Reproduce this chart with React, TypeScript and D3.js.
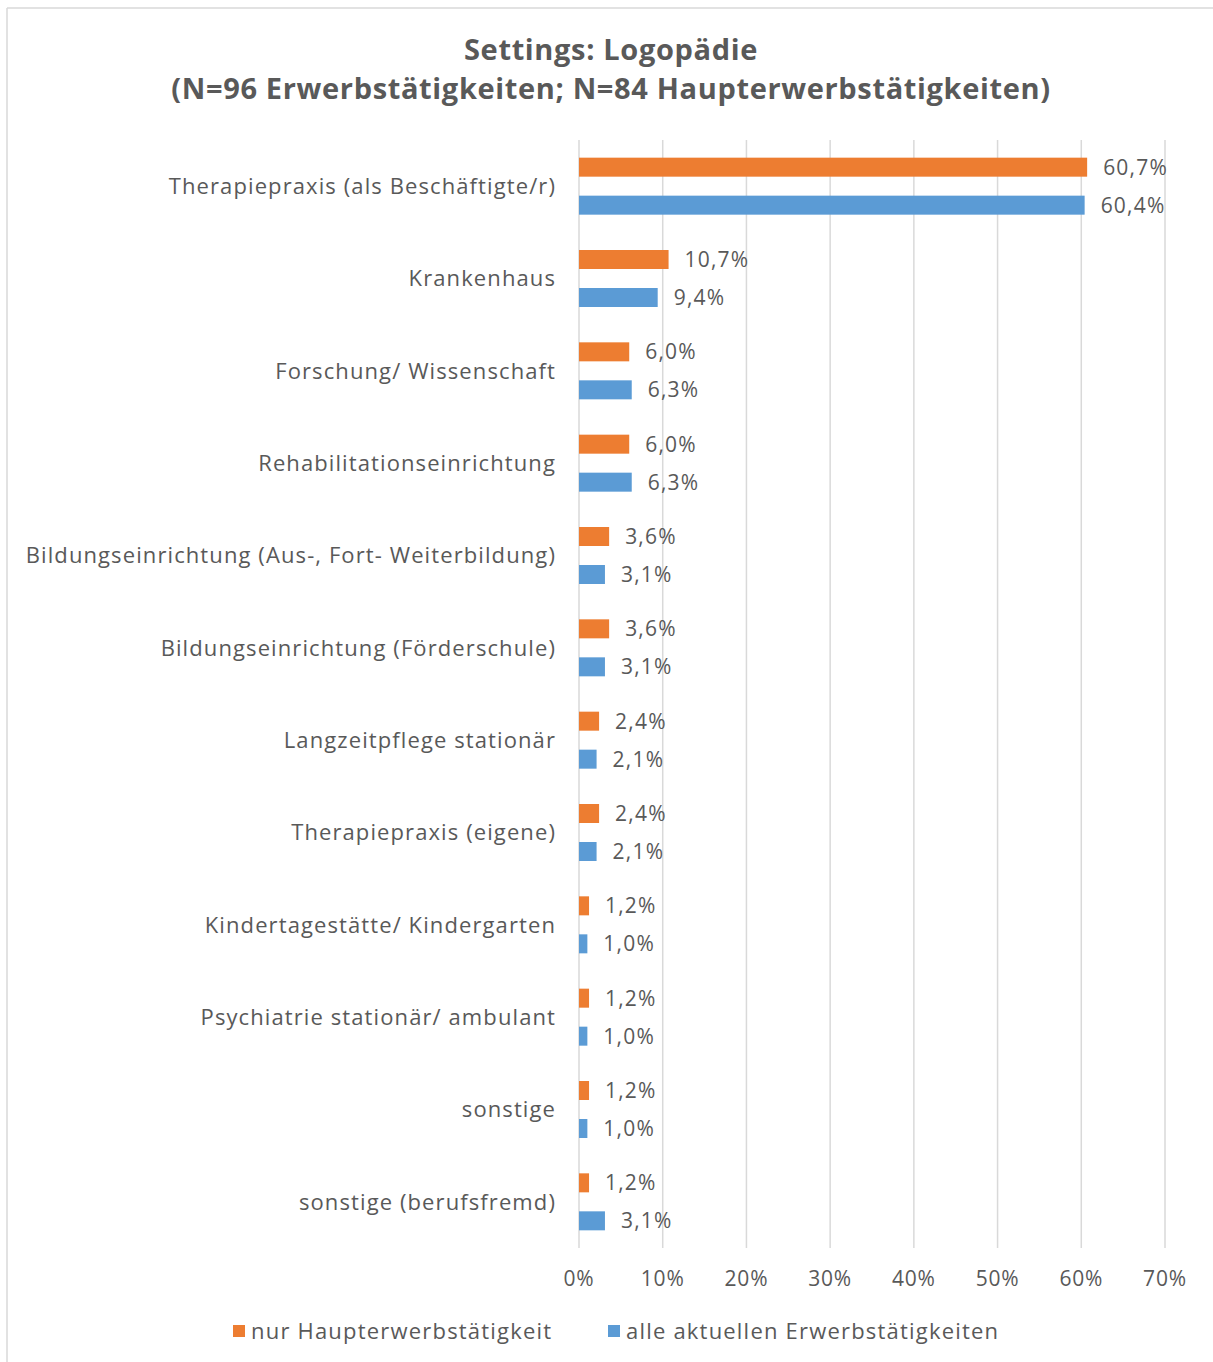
import React from "react";
import * as d3 from "d3";

const categories = [
  "Therapiepraxis (als Beschäftigte/r)",
  "Krankenhaus",
  "Forschung/ Wissenschaft",
  "Rehabilitationseinrichtung",
  "Bildungseinrichtung (Aus-, Fort- Weiterbildung)",
  "Bildungseinrichtung (Förderschule)",
  "Langzeitpflege stationär",
  "Therapiepraxis (eigene)",
  "Kindertagestätte/ Kindergarten",
  "Psychiatrie stationär/ ambulant",
  "sonstige",
  "sonstige (berufsfremd)",
];
const hauptValues = [60.7, 10.7, 6.0, 6.0, 3.6, 3.6, 2.4, 2.4, 1.2, 1.2, 1.2, 1.2];
const alleValues = [60.4, 9.4, 6.3, 6.3, 3.1, 3.1, 2.1, 2.1, 1.0, 1.0, 1.0, 3.1];
const seriesNames = ["nur Haupterwerbstätigkeit", "alle aktuellen Erwerbstätigkeiten"];
const seriesColors = ["#ED7D31", "#5B9BD5"];
const xTicks = [0, 10, 20, 30, 40, 50, 60, 70];
const titleLines = [
  "Settings: Logopädie",
  "(N=96 Erwerbstätigkeiten; N=84 Haupterwerbstätigkeiten)",
];

const W = 1213;
const H = 1362;
const FONT = "'Open Sans', 'DejaVu Sans', sans-serif";
const TEXT = "#595959";

export default function App() {
  const x = d3.scaleLinear().domain([0, 70]).range([579, 1165]);
  const y = d3.scaleBand<string>().domain(categories).range([140, 1248]).padding(0);
  const inner = d3
    .scaleBand<number>()
    .domain([0, 1])
    .range([0, y.bandwidth()])
    .paddingInner(0.5)
    .paddingOuter(0.465);
  const series = [hauptValues, alleValues];
  const fmt = (v: number) => v.toFixed(1).replace(".", ",") + "%";

  return (
    <svg
      width={W}
      height={H}
      style={{ position: "absolute", left: 0, top: 0, background: "#fff" }}
      fontFamily={FONT}
    >
      <rect x={0} y={0} width={W} height={H} fill="#fff" />
      <line x1={7} x2={1213} y1={8} y2={8} stroke="#D9D9D9" strokeWidth={1.5} />
      <line x1={7} x2={7} y1={8} y2={H} stroke="#D9D9D9" strokeWidth={1.5} />

      {titleLines.map((t, i) => (
        <text
          key={i}
          x={611}
          y={60 + i * 39}
          textAnchor="middle"
          fontSize={29}
          fontWeight="bold"
          letterSpacing={0.65}
          fill={TEXT}
        >
          {t}
        </text>
      ))}

      {xTicks.map((t) => (
        <g key={t}>
          <line x1={x(t)} x2={x(t)} y1={140} y2={1248} stroke="#D9D9D9" strokeWidth={1.5} />
          <text x={x(t)} y={1286} textAnchor="middle" fontSize={21} letterSpacing={0.8} fill={TEXT}>
            {t}%
          </text>
        </g>
      ))}

      {categories.map((c, ci) => (
        <g key={c}>
          <text
            x={556}
            y={(y(c) as number) + y.bandwidth() / 2}
            dy="0.35em"
            textAnchor="end"
            fontSize={22}
            letterSpacing={1.1}
            fill={TEXT}
          >
            {c}
          </text>
          {series.map((vals, si) => {
            const by = (y(c) as number) + (inner(si) as number);
            return (
              <g key={si}>
                <rect
                  x={x(0)}
                  y={by}
                  width={x(vals[ci]) - x(0)}
                  height={inner.bandwidth()}
                  fill={seriesColors[si]}
                />
                <text
                  x={x(vals[ci]) + 16}
                  y={by + inner.bandwidth() / 2}
                  dy="0.35em"
                  fontSize={21}
                  letterSpacing={1.2}
                  fill={TEXT}
                >
                  {fmt(vals[ci])}
                </text>
              </g>
            );
          })}
        </g>
      ))}

      {seriesNames.map((s, i) => {
        const lx = [233, 608][i];
        return (
          <g key={s}>
            <rect x={lx} y={1325} width={12} height={12} fill={seriesColors[i]} />
            <text x={lx + 18} y={1331} dy="0.35em" fontSize={22} letterSpacing={1.2} fill={TEXT}>
              {s}
            </text>
          </g>
        );
      })}
    </svg>
  );
}
